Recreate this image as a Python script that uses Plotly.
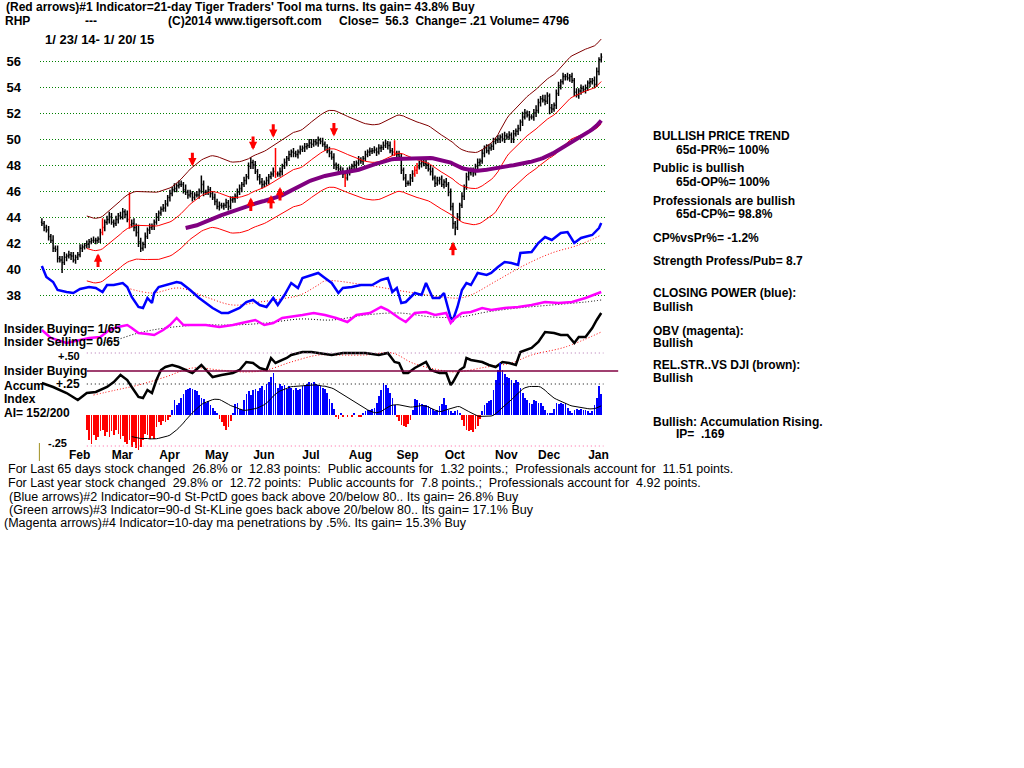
import plotly.graph_objects as go
import pandas as pd

# ---------------- data ----------------
close = [
 43.5, 43.2, 43.0, 42.5, 42.2, 41.6, 41.5, 40.8, 40.7, 40.5,
 40.9, 41.0, 41.1, 41.0, 40.7, 40.9, 41.1, 41.6, 41.7, 41.8,
 41.9, 42.1, 42.2, 42.2, 42.2, 42.3, 42.8, 43.2, 43.6, 43.8,
 44.0, 43.6, 43.5, 43.8, 44.1, 44.0, 44.4, 44.2, 43.8, 43.4,
 43.5, 43.2, 42.8, 42.1, 41.6, 41.9, 42.5, 43.0, 43.2, 43.3,
 43.6, 44.0, 44.3, 44.6, 44.7, 45.0, 45.5, 45.8, 46.1, 46.2,
 46.4, 46.5, 46.5, 46.1, 45.9, 45.7, 45.8, 45.5, 45.7, 45.7,
 46.0, 46.5, 45.9, 45.9, 46.1, 45.8, 45.5, 45.2, 44.8, 44.9,
 44.85, 44.9, 45.1, 44.8, 45.3, 45.4, 45.6, 45.9, 46.2, 46.5,
 46.8, 47.1, 47.9, 48.2, 48.0, 47.5, 47.1, 46.7, 46.5, 46.6,
 46.8, 47.1, 47.3, 47.5, 47.3, 47.3, 47.5, 47.9, 48.2, 48.5,
 48.8, 49.0, 48.9, 48.8, 49.0, 49.2, 49.3, 49.4, 49.5, 49.7,
 49.6, 49.8, 49.7, 49.9, 49.8, 49.6, 49.4, 49.1, 48.9, 48.6,
 48.0, 47.8, 47.7, 47.5, 47.3, 47.0, 47.5, 47.7, 47.9, 48.0,
 48.15, 48.4, 48.3, 48.5, 48.8, 49.0, 49.05, 49.1, 49.15, 49.0,
 49.3, 49.35, 49.5, 49.65, 49.5, 49.1, 49.0, 48.9, 48.8, 48.6,
 47.6, 47.0, 46.6, 46.6, 47.0, 47.3, 47.6, 47.85, 48.1, 48.2,
 48.1, 48.0, 47.7, 47.5, 47.0, 46.6, 46.8, 46.9, 46.5, 46.7,
 46.5, 45.9, 44.8, 43.5, 43.2, 44.0, 44.9, 45.6, 46.3, 47.1,
 47.4, 47.5, 47.4, 47.9, 48.2, 48.3, 48.9, 49.3, 49.1, 49.3,
 49.45, 49.8, 49.9, 50.0, 50.15, 50.0, 50.25, 50.15, 50.3, 50.0,
 50.4, 50.6, 50.8, 51.3, 51.7, 52.0, 51.85, 51.7, 51.7, 52.0,
 52.2, 52.8, 53.1, 53.0, 52.9, 53.3, 52.4, 52.3, 52.6, 53.5,
 54.1, 54.4, 54.8, 54.8, 54.7, 54.8, 54.5, 53.6, 53.4, 53.7,
 53.9, 53.8, 53.9, 54.3, 54.4, 54.5, 54.2, 55.2, 56.09, 56.3]
first_open = 43.6
up_ext = [
 .3,.2,.2,.3,.2,.4,.2,.3,.2,.3, .4,.2,.3,.2,.3,.2,.2,.3,.2,.2,
 .3,.2,.2,.3,.2,.2,.3,.7,.2,.3, .4,.3,.2,.3,.2,.3,.3,.2,.3,2.1,
 .3,.4,.3,.6,.3,.2,.3,.2,.3,.2, .2,.3,.2,.2,.3,.3,.2,.3,.2,.4,
 .2,.3,.3,.2,.4,.2,.3,.2,.2,.3, .2,.7,.3,.2,.3,.2,.2,.3,.2,.3,
 .2,.2,.3,.2,.3,.2,.2,.3,.3,.2, .3,.2,.3,.4,.2,.3,.2,.2,.3,.2,
 .3,.2,.2,.3,1.8,.2,.3,.2,.3,.2, .3,.2,.3,.2,.2,.3,.2,.3,.2,.3,
 .3,.2,.2,.3,.2,.3,.2,.2,.3,.2, .3,.2,.3,.2,.3,.2,.3,.2,.2,.3,
 .2,.3,.2,.2,.3,.2,.3,.2,.3,.2, .3,.2,.3,.3,.2,.3,.2,.9,.2,.3,
 .3,.2,.3,.2,.3,.3,.3,.3,.2,.3, .2,.3,.2,.3,.3,.2,.3,.2,.3,.2,
 .3,.2,.3,.3,.2,.3,.2,.3,.2,.3, .2,.3,.3,.2,.3,.2,.3,.2,.3,.3,
 .2,.3,.2,.3,.2,.3,.3,.2,.3,.2, .3,.2,.3,.2,.4,.3,.2,.3,.2,.3,
 .4,.3,.2,.3,.4,.3,.2,.3,.2,.3, .3,.2,.3,.2,.3,.2,.3,.2,.3,.2,
 .3,.2,.3,.2,.3,.2,.3,.3,.2,.3]
dn_ext = [
 .2,.3,.2,.3,.2,.3,.2,.3,.2,.8, .2,.3,.2,.3,.2,.3,.2,.2,.3,.2,
 .2,.3,.2,.2,.3,.2,.3,.2,.3,.2, .3,.2,.3,.2,.3,.2,.2,.3,.2,.3,
 .2,.3,.3,.4,.3,.2,.3,.2,.3,.2, .3,.2,.3,.2,.2,.3,.2,.3,.2,.2,
 .3,.2,.2,.3,.2,.3,.2,.3,.2,.2, .3,.2,.3,.2,.2,.3,.2,.3,.2,.3,
 .2,.3,.2,.3,.2,.2,.3,.2,.2,.3, .2,.3,.2,.2,.3,.2,.3,.2,.3,.2,
 .2,.3,.2,.2,.3,.2,.2,.3,.2,.3, .2,.2,.3,.2,.3,.2,.2,.3,.2,.2,
 .3,.2,.2,.3,.2,.2,.3,.2,.3,.2, .3,.2,.3,.2,.3,.7,.2,.3,.2,.2,
 .3,.2,.2,.3,.2,.2,.3,.2,.2,.3, .2,.3,.2,.2,.3,.2,.3,.2,.3,.2,
 .3,.2,.3,.2,.2,.3,.2,.3,.2,.3, .2,.3,.2,.3,.2,.3,.2,.3,.2,.3,
 .2,.3,.3,.4,.6,.2,.3,.2,.3,.2, .3,.2,.3,.2,.2,.3,.2,.3,.2,.3,
 .2,.3,.2,.2,.3,.2,.3,.2,.2,.3, .3,.2,.3,.2,.3,.2,.2,.3,.2,.3,
 .3,.2,.3,.2,.3,.2,.5,.3,.2,.3, .2,.3,.2,.3,.2,.3,.2,.3,.2,.3,
 .3,.2,.3,.2,.3,.2,.3,.2,.3,.2]
red_days = [27, 39, 104, 135, 157, 166, 167]

month_names = ["Feb", "Mar", "Apr", "May", "Jun", "Jul", "Aug", "Sep", "Oct", "Nov", "Dec", "Jan"]
month_start = [7, 26, 47, 68, 89, 110, 132, 153, 174, 197, 216, 238]
price_ticks = [38, 40, 42, 44, 46, 48, 50, 52, 54, 56]

# Closing Power (blue), arbitrary units
cp_idx = [0,2,5,7,11,14,17,21,24,27,29,32,36,38,40,43,45,47,49,50,52,55,60,62,66,70,73,76,80,83,
          88,91,94,97,100,103,105,108,111,114,116,120,123,126,129,132,134,138,142,147,151,154,156,158,
          160,162,166,169,171,174,177,179,180,182,183,185,187,189,191,194,198,200,203,206,209,212,213,
          218,221,224,227,231,234,237,240,245,248,249]
cp_val = [54,43,38,30,28,27,31,33,32,28,35,35,37,33,23,13,12,22,17,27,33,35,38,37,30,22,17,12,7,7,
          12,18,20,15,13,22,15,25,37,32,42,45,47,42,37,27,32,33,35,35,40,42,28,32,
          17,18,27,25,37,22,22,27,18,2,0,13,30,37,35,47,45,47,53,58,57,55,67,
          68,77,83,80,87,88,77,82,85,92,97]
cp_ma_idx = [38,49,61,73,85,97,109,115,123,126,144,163,178,186,191,203,215,227,239,249]
cp_ma_val = [32,27,32,23,15,18,22,25,35,39,35,28,23,22,25,40,55,67,75,85]

# On-Balance Volume (magenta), arbitrary units
obv_idx = [0,4,11,17,21,26,30,34,38,40,43,47,50,54,57,60,63,67,73,79,85,91,95,99,103,107,111,116,
           121,126,131,136,140,146,151,154,159,162,166,171,175,180,182,184,187,191,196,200,206,212,
           218,224,230,236,242,249]
obv_val = [20,12,7,10,12,13,20,23,25,22,17,16,15,20,25,32,25,25,25,23,25,28,30,25,27,32,33,35,
           37,35,32,28,35,37,43,40,32,28,37,38,35,37,27,32,37,38,42,40,42,43,
           45,48,47,48,52,58]
obv_ma_idx = [26,30,43,55,70,85,100,115,129,144,159,174,186,198,212,227,242,249]
obv_ma_val = [7,8,17,22,25,25,27,31,30,35,37,33,33,38,42,45,48,50]

# Relative strength vs DJI (black), arbitrary units
rs_idx = [0,5,11,16,20,24,29,32,35,38,40,43,45,47,49,51,53,55,58,61,64,67,71,73,76,80,85,88,91,94,
          97,100,102,104,109,111,116,120,123,129,134,138,144,150,154,157,159,161,163,166,171,173,
          177,180,182,183,186,188,189,191,196,199,202,205,208,211,213,218,221,224,228,231,234,237,
          239,242,245,247,249]
rs_val = [17,13,7,0,7,8,13,18,25,20,13,3,2,10,7,20,30,33,35,33,30,27,35,30,23,25,27,30,38,37,
          32,30,42,37,42,45,48,48,47,45,47,47,47,45,47,38,37,27,27,32,38,30,
          27,27,15,18,30,33,42,40,38,35,33,38,37,35,48,52,58,68,67,65,65,57,
          63,63,72,80,87]
rs_ma_idx = [23,33,43,55,67,79,91,100,111,123,129,144,156,165,177,184,198,209,218,233,249]
rs_ma_val = [5,10,15,23,32,30,28,30,38,45,45,45,47,37,30,28,33,37,45,53,68]

# Accumulation Index, daily from day 20
ai_start = 20
ai_val = [
 -0.12,-0.20,-0.23,-0.16,-0.20,-0.18,-0.13,-0.12,-0.17,-0.14,
 -0.18,-0.13,-0.16,-0.12,-0.15,-0.19,-0.17,-0.22,-0.23,-0.20,
 -0.26,-0.22,-0.27,-0.28,-0.26,-0.20,-0.15,-0.16,-0.19,-0.17,
 -0.19,-0.10,-0.06,-0.08,-0.05,-0.06,-0.04,-0.02,0.04,0.12,
 0.08,0.10,0.14,0.17,0.20,0.21,0.22,0.21,0.20,0.19,
 0.16,0.14,0.13,0.10,0.11,0.08,0.06,0.03,0.01,-0.03,
 -0.06,-0.09,-0.12,-0.10,-0.05,0.02,0.09,0.10,0.05,0.04,
 0.12,0.17,0.19,0.16,0.20,0.21,0.19,0.22,0.23,0.20,
 0.25,0.27,0.31,0.34,0.26,0.22,0.25,0.23,0.24,0.21,
 0.23,0.22,0.20,0.22,0.20,0.21,0.23,0.24,0.25,0.27,
 0.26,0.27,0.25,0.24,0.23,0.22,0.21,0.18,0.13,0.10,
 0.05,-0.01,-0.03,0.01,-0.02,0.00,-0.02,0.00,-0.02,0.01,
 0.00,-0.02,-0.01,0.02,0.03,0.04,0.04,0.05,0.06,0.10,
 0.15,0.20,0.26,0.24,0.22,0.18,0.14,0.08,-0.02,-0.05,
 -0.08,-0.09,-0.10,-0.07,-0.04,0.04,0.13,0.12,0.10,0.09,
 0.08,0.08,0.07,0.06,0.05,0.03,0.04,0.07,0.09,0.14,
 0.08,0.04,0.03,0.02,0.03,0.04,0.02,-0.04,-0.09,-0.12,
 -0.13,-0.12,-0.14,-0.11,-0.09,-0.03,0.03,0.08,0.10,0.11,
 0.12,0.20,0.28,0.36,0.42,0.36,0.33,0.31,0.30,0.28,
 0.26,0.28,0.27,0.22,0.18,0.14,0.12,0.10,0.09,0.12,
 0.11,0.10,0.10,0.07,0.04,0.02,0.01,0.01,0.05,0.10,
 0.09,0.10,0.09,0.10,0.06,0.03,0.02,0.04,0.05,0.04,
 0.05,0.04,0.04,0.03,0.02,0.03,0.08,0.14,0.23,0.17]
ai_ref_levels = [0.50, 0.25, -0.25]
ai_ref_labels = ["+.50", "+.25", "-.25"]

down_arrow_idx = [67, 94, 103, 130]
down_arrow_tip = [47.9, 49.15, 50.1, 50.2]
up_arrow_idx = [25, 93, 102, 106, 183]
up_arrow_tip = [41.2, 45.5, 45.7, 46.3, 42.1]

# ---------------- derived ----------------
n = len(close)
idx = list(range(n))
opens = [first_open] + close[:-1]
highs = [max(o, c) + u for o, c, u in zip(opens, close, up_ext)]
lows = [min(o, c) - d for o, c, d in zip(opens, close, dn_ext)]
s = pd.Series(close)
ma21 = s.rolling(21).mean()
upper = ma21 * 1.06
lower = ma21 * 0.94
ma65 = s.rolling(65).mean()
ai_x = list(range(ai_start, ai_start + len(ai_val)))
ai_ma = pd.Series(ai_val).rolling(21).mean()

W, H = 1024, 768
def px(x):
    return x / W
def py(y):
    return 1 - y / H

FONT = "Liberation Sans"
BLK = "#000000"

fig = go.Figure()
fig.add_trace(go.Scatter(x=idx, y=upper, mode="lines", line=dict(color="#800000", width=1), hoverinfo="skip"))
fig.add_trace(go.Scatter(x=idx, y=ma21, mode="lines", line=dict(color="#ff0000", width=1), hoverinfo="skip"))
fig.add_trace(go.Scatter(x=idx, y=lower, mode="lines", line=dict(color="#ff0000", width=1), hoverinfo="skip"))
fig.add_trace(go.Scatter(x=idx, y=ma65, mode="lines", line=dict(color="#800080", width=4), hoverinfo="skip"))

blk = [i for i in idx if i not in red_days]
fig.add_trace(go.Ohlc(x=blk, open=[opens[i] for i in blk], high=[highs[i] for i in blk],
                      low=[lows[i] for i in blk], close=[close[i] for i in blk],
                      increasing_line_color=BLK, decreasing_line_color=BLK, line_width=1.5, tickwidth=0.45))
fig.add_trace(go.Ohlc(x=red_days, open=[opens[i] for i in red_days], high=[highs[i] for i in red_days],
                      low=[lows[i] for i in red_days], close=[close[i] for i in red_days],
                      increasing_line_color="#ff0000", decreasing_line_color="#ff0000", line_width=1.5, tickwidth=0.45))

# lower indicators
fig.add_trace(go.Scatter(x=cp_ma_idx, y=cp_ma_val, yaxis="y2", mode="lines", line=dict(color="#ff0000", width=1, dash="1px,2px"), line_shape="spline"))
fig.add_trace(go.Scatter(x=cp_idx, y=cp_val, yaxis="y2", mode="lines", line=dict(color="#0000ff", width=2.5)))
fig.add_trace(go.Scatter(x=obv_ma_idx, y=obv_ma_val, yaxis="y3", mode="lines", line=dict(color="#000000", width=1, dash="1px,2px"), line_shape="spline"))
fig.add_trace(go.Scatter(x=obv_idx, y=obv_val, yaxis="y3", mode="lines", line=dict(color="#ff00ff", width=2.5)))
fig.add_trace(go.Scatter(x=rs_ma_idx, y=rs_ma_val, yaxis="y4", mode="lines", line=dict(color="#ff0000", width=1, dash="1px,2px"), line_shape="spline"))
fig.add_trace(go.Scatter(x=rs_idx, y=rs_val, yaxis="y4", mode="lines", line=dict(color="#000000", width=2.5)))
fig.add_trace(go.Bar(x=ai_x, y=ai_val, yaxis="y5", width=0.33,
                     marker=dict(color=["#0000ff" if v >= 0 else "#ff0000" for v in ai_val], line_width=0)))
fig.add_trace(go.Scatter(x=ai_x, y=ai_ma, yaxis="y5", mode="lines", line=dict(color="#000000", width=1)))

ann = []
def txt(t, x, y, size=12, bold=True, anchor="left"):
    ann.append(dict(text=t, x=px(x), y=py(y), xref="paper", yref="paper", showarrow=False,
                    xanchor=anchor, yanchor="middle",
                    font=dict(family=FONT, size=size, color=BLK, weight="bold" if bold else "normal")))

sp = "\u00a0"
txt("(Red arrows)#1 Indicator=21-day Tiger Traders' Tool ma turns. Its gain= 43.8% Buy", 4, 7)
txt("RHP", 3, 21)
txt("---", 83, 21)
txt("(C)2014 www.tigersoft.com", 166, 21)
txt(f"Close={sp}{sp}56.3{sp}{sp}Change= .21 Volume= 4796", 338, 21)
txt("1/ 23/ 14- 1/ 20/ 15", 43, 39, size=13)

txt("Insider Buying= 1/65", 2, 329)
txt("Insider Selling= 0/65", 2, 342)
txt("Insider Buying", 2, 371)
txt("Accum", 2, 386)
txt("Index", 2, 399)
txt("AI= 152/200", 2, 413)

right = [("BULLISH PRICE TREND", 653, 136), ("65d-PR%= 100%", 676, 150), ("Public is bullish", 653, 168),
         ("65d-OP%= 100%", 676, 182), ("Professionals are bullish", 653, 201), ("65d-CP%= 98.8%", 676, 214),
         ("CP%vsPr%= -1.2%", 653, 238), ("Strength Profess/Pub= 8.7", 653, 261),
         ("CLOSING POWER (blue):", 653, 293), ("Bullish", 653, 307), ("OBV (magenta):", 653, 331),
         ("Bullish", 653, 343), ("REL.STR..VS DJI (brown):", 653, 365), ("Bullish", 653, 378),
         ("Bullish: Accumulation Rising.", 653, 422), (f"IP={sp}{sp}.169", 676, 434)]
for t, x, y in right:
    txt(t, x, y)

bottom = [(f"For Last 65 days stock changed{sp} 26.8% or{sp} 12.83 points:{sp} Public accounts for{sp} 1.32 points.;{sp} Professionals account for{sp} 11.51 points.", 6, 469),
          (f"For Last year stock changed{sp} 29.8% or{sp} 12.72 points:{sp} Public accounts for{sp} 7.8 points.;{sp} Professionals account for{sp} 4.92 points.", 6, 483),
          ("(Blue arrows)#2 Indicator=90-d St-PctD goes back above 20/below 80.. Its gain= 26.8% Buy", 7, 497),
          ("(Green arrows)#3 Indicator=90-d St-KLine goes back above 20/below 80.. Its gain= 17.1% Buy", 7, 510),
          ("(Magenta arrows)#4 Indicator=10-day ma penetrations by .5%. Its gain= 15.3% Buy", 2, 523)]
for t, x, y in bottom:
    txt(t, x, y, size=12.5, bold=False)

ai_label_x = [82, 82, 69]
ai_label_size = [11, 12, 11]
ai_label_shift = [-3, 0, 3]
for lv, lb, lx, ls, sh in zip(ai_ref_levels, ai_ref_labels, ai_label_x, ai_label_size, ai_label_shift):
    ann.append(dict(text=lb, x=px(lx), y=lv, xref="paper", yref="y5", showarrow=False, xanchor="right",
                    yanchor="middle", yshift=sh,
                    font=dict(family=FONT, size=ls, color=BLK, weight="bold")))

for i, p in zip(down_arrow_idx, down_arrow_tip):
    ann.append(dict(x=i, y=p, xref="x", yref="y", text="", showarrow=True, ax=0, ay=-15,
                    arrowcolor="#ff0000", arrowwidth=3, arrowhead=2, arrowsize=0.55))
for i, p in zip(up_arrow_idx, up_arrow_tip):
    ann.append(dict(x=i, y=p, xref="x", yref="y", text="", showarrow=True, ax=0, ay=15,
                    arrowcolor="#ff0000", arrowwidth=3, arrowhead=2, arrowsize=0.55))

shapes = []
ai_dot_colors = ["#b070b0", "#000000", "#ff60a0"]
for lv, col in zip(ai_ref_levels, ai_dot_colors):
    shapes.append(dict(type="line", xref="x", yref="y5", x0=20, x1=250, y0=lv, y1=lv,
                       line=dict(color=col, width=1, dash="1px,3px")))
shapes.append(dict(type="line", xref="paper", yref="paper", x0=px(87), x1=px(620), y0=py(371), y1=py(371),
                   line=dict(color="#800040", width=1.3)))
shapes.append(dict(type="line", xref="paper", yref="paper", x0=px(39.5), x1=px(39.5), y0=py(443), y1=py(461),
                   line=dict(color="#a09020", width=1)))

x_per_px = 2.253
x0 = -2 / x_per_px
x1 = (608 - 42) / x_per_px
fig.update_layout(
    width=W, height=H, margin=dict(l=0, r=0, t=0, b=0), autosize=False,
    paper_bgcolor="white", plot_bgcolor="white", showlegend=False, bargap=0,
    annotations=ann, shapes=shapes,
    xaxis=dict(domain=[px(40), px(608)], range=[x0, x1], anchor="free", position=py(446),
               showgrid=False, zeroline=False, showline=False, ticks="",
               tickvals=[m + 9.8 for m in month_start], ticktext=month_names,
               tickfont=dict(family=FONT, size=12, color=BLK, weight="bold"),
               rangeslider=dict(visible=False)),
    yaxis=dict(domain=[0, 1], range=[56 - (H - 61) / 13, 56 + 61 / 13], tickvals=price_ticks,
               showgrid=True, gridcolor="#008000", griddash="1px,2px", gridwidth=1,
               zeroline=False, showline=False, ticks="", ticklabelstandoff=18,
               tickfont=dict(family=FONT, size=13, color=BLK, weight="bold")),
    yaxis2=dict(overlaying="y", range=[320 - H, 320], visible=False),
    yaxis3=dict(overlaying="y", range=[350 - H, 350], visible=False),
    yaxis4=dict(overlaying="y", range=[400 - H, 400], visible=False),
    yaxis5=dict(overlaying="y", range=[-(H - 415) / 124, 415 / 124], visible=False),
)
fig.write_html("out.html")
